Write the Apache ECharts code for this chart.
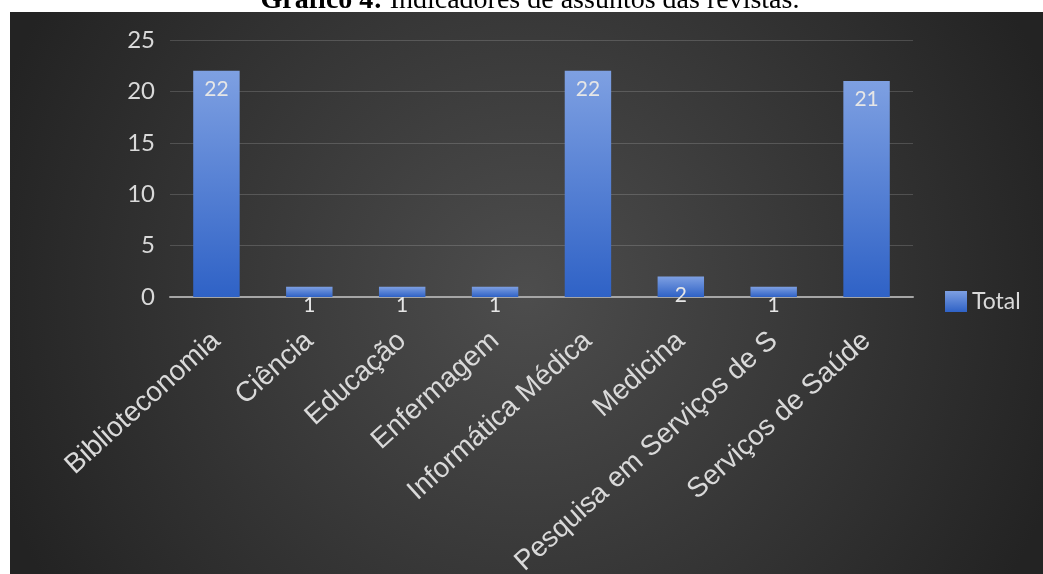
<!DOCTYPE html>
<html>
<head>
<meta charset="utf-8">
<script src="https://cdn.jsdelivr.net/npm/echarts@6/dist/echarts.min.js"></script>
<style>
html,body{margin:0;padding:0;background:#fff;}
#chart{width:1043px;height:574px;}
</style>
</head>
<body>
<div id="chart"></div>
<script>
// dados do gráfico
var categories = ['Biblioteconomia', 'Ciência', 'Educação', 'Enfermagem', 'Informática Médica', 'Medicina', 'Pesquisa em Serviços de Saúde', 'Serviços de Saúde']
var totals = [22, 1, 1, 1, 22, 2, 1, 21]
var seriesName = 'Total'
var yMin = 0
var yMax = 25
var yStep = 5

var myChart = echarts.init(document.getElementById('chart'))

var barColor = new echarts.graphic.LinearGradient(0, 0, 0, 1, [
    { offset: 0, color: '#7ea0e2' },
    { offset: 1, color: '#2f62c6' }
])

var option = {
    backgroundColor: '#fff',
    graphic: [
        {
            type: 'rect',
            z: 0,
            shape: { x: 10, y: 12, width: 1033, height: 562 },
            style: {
                fill: new echarts.graphic.RadialGradient(0.5, 0.5, 1, [
                    { offset: 0, color: '#4d4d4d' },
                    { offset: 1, color: '#232323' }
                ])
            }
        },
        {
            type: 'text',
            z: 1,
            x: 530,
            y: 15,
            style: {
                text: '{b|Gráfico 4:} Indicadores de assuntos das revistas.',
                align: 'center',
                verticalAlign: 'bottom',
                font: '28px "Liberation Serif"',
                fill: '#000',
                rich: {
                    b: { fontFamily: 'Liberation Serif', fontSize: 28, fontWeight: 'bold', fill: '#000' }
                }
            }
        }
    ],
    grid: {
        left: 170,
        right: 130,
        top: 40,
        bottom: 277,
        containLabel: false,
        outerBoundsMode: 'none'
    },
    legend: {
        data: [seriesName],
        left: 940,
        top: 285,
        icon: 'rect',
        itemWidth: 22,
        itemHeight: 21,
        textStyle: {
            color: '#d9d9d9',
            fontFamily: 'Lato',
            fontSize: 23
        }
    },
    xAxis: {
        type: 'category',
        data: categories,
        axisLine: {
            lineStyle: { color: '#a6a6a6', width: 2 }
        },
        axisTick: { show: false },
        axisLabel: {
            interval: 0,
            rotate: 42,
            margin: 40,
            color: '#d9d9d9',
            fontFamily: 'Liberation Sans',
            fontSize: 28,
            width: 350,
            overflow: 'truncate',
            ellipsis: ''
        }
    },
    yAxis: {
        type: 'value',
        min: yMin,
        max: yMax,
        interval: yStep,
        axisLine: { show: false },
        axisTick: { show: false },
        splitLine: {
            lineStyle: { color: 'rgba(255,255,255,0.16)', width: 1 }
        },
        axisLabel: {
            color: '#d9d9d9',
            fontFamily: 'Lato',
            fontSize: 24,
            margin: 15
        }
    },
    series: [
        {
            name: seriesName,
            type: 'bar',
            data: totals,
            barWidth: '50%',
            itemStyle: { color: barColor },
            label: {
                show: true,
                position: 'insideTop',
                distance: 8,
                color: '#e6e6e6',
                fontFamily: 'Lato',
                fontSize: 21
            }
        }
    ]
}

myChart.setOption(option)
</script>
</body>
</html>
